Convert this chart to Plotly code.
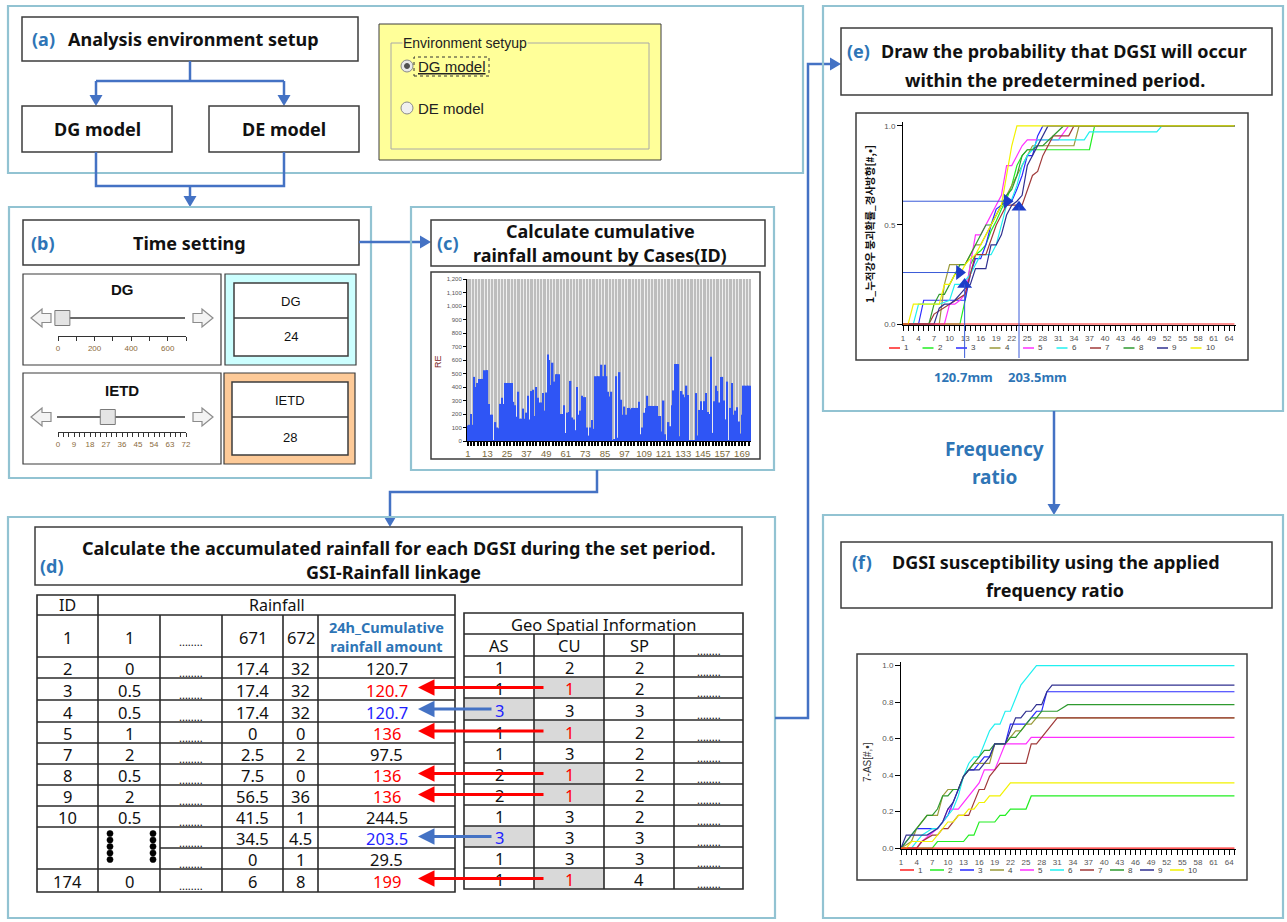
import plotly.graph_objects as go

W, H = 1287, 922
FONT = "Noto Sans"
UI = "Liberation Sans"
KR = "Noto Sans CJK KR"
LBL = "#2e75b6"
CONN = "#4472c4"
FRAME = "#92c3d2"
BOX = "#3c3c3c"

# ------------------------------------------------------------------ data
bar_re = [115, 120, 200, 120, 475, 400, 430, 460, 460, 460,
          525, 525, 525, 275, 195, 195, 5, 140, 100, 95,
          275, 320, 275, 430, 430, 430, 430, 430, 290, 265,
          180, 365, 165, 165, 240, 165, 210, 335, 160, 370,
          380, 185, 400, 320, 285, 285, 355, 225, 360, 640,
          600, 415, 580, 440, 495, 495, 495, 200, 200, 265,
          60, 210, 215, 445, 175, 160, 80, 400, 195, 225,
          335, 325, 325, 100, 40, 100, 155, 90, 480, 480,
          480, 480, 565, 480, 565, 480, 365, 330, 365, 5,
          15, 480, 25, 510, 305, 195, 255, 195, 245, 245,
          235, 245, 245, 245, 245, 290, 50, 100, 210, 245,
          335, 260, 260, 260, 260, 260, 260, 185, 185, 70,
          300, 50, 5, 140, 110, 265, 375, 570, 570, 570,
          35, 370, 345, 325, 410, 340, 5, 5, 5, 5,
          355, 40, 230, 295, 230, 295, 355, 215, 200, 625,
          60, 295, 410, 370, 285, 475, 475, 300, 160, 440,
          5, 245, 430, 195, 225, 250, 145, 55, 195, 410,
          410, 410, 410, 410]
bar_ids = list(range(1, len(bar_re) + 1))

series_names = ["1", "2", "3", "4", "5", "6", "7", "8", "9", "10"]
series_colors = ["#ff2020", "#22ee22", "#2a2aff", "#9a9a3a", "#ff30ff",
                 "#20f0f0", "#a03a3a", "#2f9a2f", "#303090", "#f2f200"]

# (e) probability curves
e_x = [
    [1, 65],
    [1, 12, 13, 14, 15, 16, 17, 18, 19, 20, 21, 22, 23, 24, 25, 37, 38, 65],
    [1, 4, 5, 13, 14, 15, 16, 17, 18, 19, 20, 21, 22, 23, 24, 25, 26, 27, 28, 65],
    [1, 8, 9, 10, 13, 14, 15, 16, 17, 18, 19, 20, 21, 22, 23, 24, 25, 26, 34, 35, 65],
    [1, 9, 10, 11, 12, 13, 14, 15, 16, 17, 18, 19, 20, 21, 22, 23, 24, 25, 31, 33, 65],
    [1, 3, 4, 8, 10, 11, 12, 13, 14, 15, 16, 17, 18, 19, 20, 21, 22, 23, 24, 25, 26, 27, 36, 37, 50, 51, 65],
    [1, 6, 7, 10, 13, 14, 15, 17, 18, 19, 20, 21, 24, 25, 26, 27, 28, 29, 30, 33, 34, 65],
    [1, 6, 7, 8, 9, 10, 11, 12, 13, 14, 15, 16, 17, 18, 19, 20, 21, 22, 23, 24, 25, 26, 27, 28, 30, 31, 32, 65],
    [1, 7, 8, 9, 10, 11, 12, 13, 14, 15, 17, 18, 19, 20, 21, 22, 23, 24, 25, 26, 27, 28, 29, 65],
    [1, 2, 3, 8, 9, 10, 11, 12, 13, 14, 15, 16, 17, 18, 19, 20, 21, 22, 23, 65],
]
e_y = [
    [0, 0],
    [0, 0, 0.12, 0.3, 0.35, 0.37, 0.4, 0.47, 0.52, 0.58, 0.63, 0.7, 0.8, 0.85, 0.88, 0.88, 1, 1],
    [0, 0, 0.12, 0.12, 0.25, 0.33, 0.33, 0.4, 0.5, 0.58, 0.6, 0.62, 0.62, 0.68, 0.75, 0.85, 0.85, 0.95, 1, 1],
    [0, 0, 0.2, 0.3, 0.3, 0.35, 0.4, 0.4, 0.45, 0.5, 0.55, 0.6, 0.65, 0.7, 0.75, 0.8, 0.85, 0.9, 0.9, 1, 1],
    [0, 0, 0.1, 0.1, 0.12, 0.15, 0.3, 0.45, 0.45, 0.5, 0.55, 0.6, 0.65, 0.8, 0.8, 0.85, 0.9, 0.93, 0.93, 1, 1],
    [0, 0, 0.1, 0.1, 0.12, 0.2, 0.2, 0.22, 0.25, 0.3, 0.35, 0.35, 0.35, 0.4, 0.5, 0.6, 0.63, 0.7, 0.8, 0.85, 0.88, 0.93, 0.93, 0.97, 0.97, 1, 1],
    [0, 0, 0.05, 0.1, 0.15, 0.25, 0.35, 0.35, 0.42, 0.5, 0.55, 0.6, 0.6, 0.68, 0.75, 0.77, 0.85, 0.9, 0.95, 0.95, 1, 1],
    [0, 0, 0.1, 0.15, 0.15, 0.2, 0.25, 0.3, 0.3, 0.35, 0.4, 0.45, 0.5, 0.5, 0.55, 0.6, 0.65, 0.68, 0.75, 0.85, 0.88, 0.88, 0.9, 0.9, 0.95, 0.97, 1, 1],
    [0, 0, 0.08, 0.1, 0.1, 0.12, 0.15, 0.18, 0.2, 0.28, 0.28, 0.4, 0.4, 0.45, 0.55, 0.6, 0.62, 0.65, 0.8, 0.85, 0.9, 0.95, 1, 1],
    [0, 0, 0.1, 0.1, 0.2, 0.2, 0.25, 0.25, 0.3, 0.33, 0.35, 0.4, 0.45, 0.5, 0.55, 0.6, 0.75, 0.9, 1, 1],
]

# (f) susceptibility curves
f_x = [
    [1, 65],
    [1, 7, 8, 13, 14, 15, 16, 19, 20, 21, 22, 25, 26, 65],
    [1, 2, 4, 8, 9, 10, 11, 12, 13, 14, 15, 16, 17, 18, 19, 21, 22, 25, 26, 27, 28, 29, 65],
    [1, 3, 4, 6, 8, 9, 10, 12, 13, 14, 15, 18, 19, 21, 22, 23, 24, 25, 26, 27, 65],
    [1, 4, 5, 8, 9, 10, 12, 13, 14, 15, 16, 17, 19, 20, 21, 25, 26, 65],
    [1, 3, 4, 5, 7, 8, 9, 10, 11, 12, 13, 14, 15, 16, 17, 18, 19, 20, 21, 22, 23, 24, 25, 26, 27, 65],
    [1, 4, 5, 7, 8, 9, 10, 11, 12, 14, 15, 16, 17, 18, 19, 20, 25, 26, 27, 28, 29, 30, 31, 65],
    [1, 2, 4, 6, 7, 8, 9, 10, 11, 12, 13, 14, 15, 16, 17, 18, 19, 21, 22, 23, 24, 25, 26, 27, 28, 31, 33, 65],
    [1, 2, 6, 8, 9, 10, 11, 12, 13, 14, 16, 17, 18, 19, 21, 22, 23, 24, 25, 26, 27, 28, 29, 30, 65],
    [1, 2, 3, 7, 8, 9, 10, 11, 12, 13, 14, 15, 16, 17, 18, 20, 21, 22, 65],
]
f_y = [
    [0, 0],
    [0, 0, 0.036, 0.036, 0.071, 0.071, 0.143, 0.143, 0.179, 0.179, 0.214, 0.214, 0.286, 0.286],
    [0, 0.036, 0.107, 0.107, 0.143, 0.179, 0.25, 0.321, 0.393, 0.429, 0.429, 0.464, 0.5, 0.5, 0.571, 0.571, 0.679, 0.679, 0.714, 0.75, 0.75, 0.857, 0.857],
    [0, 0.036, 0.107, 0.179, 0.179, 0.286, 0.321, 0.321, 0.393, 0.429, 0.464, 0.464, 0.571, 0.571, 0.607, 0.643, 0.643, 0.679, 0.679, 0.714, 0.714],
    [0, 0, 0.036, 0.107, 0.143, 0.214, 0.214, 0.25, 0.286, 0.321, 0.357, 0.429, 0.429, 0.5, 0.571, 0.571, 0.607, 0.607],
    [0, 0, 0.036, 0.071, 0.107, 0.107, 0.143, 0.179, 0.214, 0.286, 0.393, 0.464, 0.5, 0.5, 0.571, 0.643, 0.679, 0.679, 0.75, 0.75, 0.821, 0.893, 0.929, 0.964, 1.0, 1.0],
    [0, 0, 0.036, 0.071, 0.071, 0.107, 0.107, 0.143, 0.179, 0.179, 0.25, 0.321, 0.321, 0.393, 0.429, 0.464, 0.464, 0.571, 0.571, 0.607, 0.643, 0.679, 0.714, 0.714],
    [0, 0.036, 0.107, 0.179, 0.179, 0.214, 0.286, 0.286, 0.321, 0.321, 0.393, 0.429, 0.464, 0.5, 0.536, 0.536, 0.571, 0.571, 0.607, 0.607, 0.643, 0.679, 0.714, 0.714, 0.75, 0.75, 0.786, 0.786],
    [0, 0.071, 0.071, 0.107, 0.143, 0.214, 0.25, 0.321, 0.393, 0.429, 0.429, 0.464, 0.5, 0.571, 0.571, 0.643, 0.714, 0.714, 0.75, 0.75, 0.786, 0.786, 0.857, 0.893, 0.893],
    [0, 0, 0.036, 0.036, 0.071, 0.107, 0.143, 0.143, 0.179, 0.179, 0.214, 0.214, 0.25, 0.25, 0.286, 0.286, 0.321, 0.357, 0.357],
]

# guide markers on (e)
e_hguide_x = [11.9, 21.1]
e_hguide_y = [0.26, 0.62]
e_vguide_x = [12.9, 23.4]
e_vguide_y = [0.20, 0.59]
e_guide_labels = ["120.7mm", "203.5mm"]

# sliders in (b)
dg_value, ietd_value = 24, 28
dg_range, ietd_range = [0, 700], [0, 72]

# left table (d)
lt_header = ["1", "1", "........", "671", "672", "24h_Cumulative<br>rainfall amount"]
lt_id = ["2", "3", "4", "5", "7", "8", "9", "10", "", "", "174"]
lt_first = ["0", "0.5", "0.5", "1", "2", "0.5", "2", "0.5", "", "", "0"]
lt_671 = ["17.4", "17.4", "17.4", "0", "2.5", "7.5", "56.5", "41.5", "34.5", "0", "6"]
lt_672 = ["32", "32", "32", "0", "2", "0", "36", "1", "4.5", "1", "8"]
lt_cum = ["120.7", "120.7", "120.7", "136", "97.5", "136", "136", "244.5", "203.5", "29.5", "199"]
lt_cum_color = ["#111111", "#ff0000", "#1f1fff", "#ff0000", "#111111", "#ff0000",
                "#ff0000", "#111111", "#1f1fff", "#111111", "#ff0000"]

# right table (d)
rt_cols = ["AS", "CU", "SP", "........"]
rt_as = ["1", "1", "3", "1", "1", "2", "2", "1", "3", "1", "1"]
rt_cu = ["2", "1", "3", "1", "3", "1", "1", "3", "3", "3", "1"]
rt_sp = ["2", "2", "3", "2", "2", "2", "2", "2", "3", "3", "4"]
red_rows = [1, 3, 5, 6, 10]
blue_rows = [2, 8]

# ------------------------------------------------------------------ helpers
def px(x):
    return x / W


def py(y):
    return 1 - y / H


shapes, annots = [], []


def rect(x0, y0, x1, y1, color=BOX, width=1.5, fill="rgba(0,0,0,0)", dash="solid", layer="above"):
    shapes.append(dict(type="rect", xref="paper", yref="paper",
                       x0=px(x0), x1=px(x1), y0=py(y1), y1=py(y0),
                       line=dict(color=color, width=width, dash=dash),
                       fillcolor=fill, layer=layer))


def poly(pts, color=CONN, width=2.5, fill=None, close=False, layer="above"):
    d = "M" + " L".join(f"{px(x):.6f},{py(y):.6f}" for x, y in pts) + (" Z" if close else "")
    shapes.append(dict(type="path", xref="paper", yref="paper", path=d,
                       line=dict(color=color, width=width),
                       fillcolor=fill if fill else "rgba(0,0,0,0)", layer=layer))


def circle(cx, cy, r, color, fill, width=1):
    shapes.append(dict(type="circle", xref="paper", yref="paper",
                       x0=px(cx - r), x1=px(cx + r), y0=py(cy + r), y1=py(cy - r),
                       line=dict(color=color, width=width), fillcolor=fill))


def head(x, y, d, L=11, hw=6.5, color=CONN):
    if d == "down":
        pts = [(x, y), (x - hw, y - L), (x + hw, y - L)]
    elif d == "up":
        pts = [(x, y), (x - hw, y + L), (x + hw, y + L)]
    elif d == "right":
        pts = [(x, y), (x - L, y - hw), (x - L, y + hw)]
    else:
        pts = [(x, y), (x + L, y - hw), (x + L, y + hw)]
    poly(pts, color=color, width=0, fill=color, close=True)


def arrow(pts, color=CONN, width=2.5, L=11, hw=6.5):
    (xa, ya), (xb, yb) = pts[-2], pts[-1]
    if xb > xa:
        d, end = "right", (xb - L + 1, yb)
    elif xb < xa:
        d, end = "left", (xb + L - 1, yb)
    elif yb > ya:
        d, end = "down", (xb, yb - L + 1)
    else:
        d, end = "up", (xb, yb + L - 1)
    poly(pts[:-1] + [end], color, width)
    head(xb, yb, d, L, hw, color)


def text(x, y, s, size=18, color="#111111", bold=False, xanchor="center",
         family=FONT, angle=0, bg=None):
    a = dict(xref="paper", yref="paper", x=px(x), y=py(y),
             text=f"<b>{s}</b>" if bold else s, showarrow=False,
             font=dict(size=size, color=color, family=family),
             xanchor=xanchor, yanchor="middle", textangle=angle, borderpad=0)
    if bg:
        a["bgcolor"] = bg
    annots.append(a)


def link_arrow(x_tail, x_tip, y, color):
    annots.append(dict(xref="paper", yref="paper", x=px(x_tip), y=py(y),
                       ax=x_tail - x_tip, ay=0, text="", showarrow=True,
                       arrowhead=2, arrowsize=1.1, arrowwidth=3,
                       arrowcolor=color, standoff=0))


def hollow_arrow(tip_x, cy, direction):
    s = 1 if direction == "right" else -1
    pts = [(tip_x, cy), (tip_x - s * 11, cy - 9), (tip_x - s * 11, cy - 4.5),
           (tip_x - s * 20, cy - 4.5), (tip_x - s * 20, cy + 4.5),
           (tip_x - s * 11, cy + 4.5), (tip_x - s * 11, cy + 9)]
    poly(pts, color="#8c8c8c", width=1.2, fill="#f3f3f3", close=True)


# ------------------------------------------------------------------ (a)
rect(8, 6, 803, 173, FRAME, 2.2)
rect(22, 17, 358, 61)
text(43, 39, "(a)", 18, LBL, True)
text(193, 39, "Analysis environment setup", 18, bold=True)
poly([(190, 61), (190, 81)])
poly([(96, 81), (284, 81)])
arrow([(96, 81), (96, 106)])
arrow([(284, 81), (284, 106)])
rect(22, 106, 172, 152)
text(97, 129, "DG model", 18, bold=True)
rect(209, 106, 359, 152)
text(284, 129, "DE model", 18, bold=True)
poly([(96, 152), (96, 186), (284, 186), (284, 152)])
arrow([(190, 186), (190, 207)])

rect(379, 24, 661, 160, BOX, 1, "#ffff99")
rect(391, 43, 649, 149, "#a8a8a8", 1)
text(402, 43, "Environment setyup", 14, "#222222", family=UI, xanchor="left", bg="#ffff99")
circle(407, 66, 6, "#8a8a8a", "#e8e8e8")
circle(407, 66, 2.5, "#505050", "#505050")
text(417, 66, "<u>DG model</u>", 15, "#222222", family=UI, xanchor="left")
rect(414, 57, 489, 76, "#333333", 1, dash="dot")
circle(407, 108, 6, "#8a8a8a", "#f0f0f0")
text(417, 108, "DE model", 15, "#222222", family=UI, xanchor="left")

# ------------------------------------------------------------------ (b)
rect(9, 207, 371, 478, FRAME, 2.2)
rect(23, 220, 359, 265)
text(43, 243, "(b)", 18, LBL, True)
text(190, 243, "Time setting", 18, bold=True)
arrow([(359, 242), (431, 242)])

rect(23, 274, 221, 365, BOX, 1.2)
text(122, 290, "DG", 15, bold=True, family=UI)
hollow_arrow(31, 318, "left")
hollow_arrow(213, 318, "right")
poly([(57, 318), (185, 318)], "#6a6a6a", 2, layer="below")
rect(225, 274, 356, 365, BOX, 1.2, "#ccffff")
rect(234, 283, 348, 356, BOX, 1.5, "white")
poly([(234, 318), (348, 318)], BOX, 1.5)
text(291, 301, "DG", 13, family=UI)
text(291, 337, str(dg_value), 13, family=UI)

rect(23, 373, 221, 464, BOX, 1.2)
text(122, 390, "IETD", 15, bold=True, family=UI)
hollow_arrow(31, 417, "left")
hollow_arrow(213, 417, "right")
poly([(57, 417), (185, 417)], "#6a6a6a", 2, layer="below")
rect(224, 373, 355, 464, BOX, 1.2, "#fdca98")
rect(232, 382, 348, 455, BOX, 1.5, "white")
poly([(232, 417), (348, 417)], BOX, 1.5)
text(290, 400, "IETD", 13, family=UI)
text(290, 437, str(ietd_value), 13, family=UI)

# ------------------------------------------------------------------ (c)
rect(411, 207, 774, 470, FRAME, 2.2)
rect(431, 220, 765, 266)
text(448, 243, "(c)", 18, LBL, True)
text(600, 231, "Calculate cumulative", 18, bold=True)
text(600, 255, "rainfall amount by Cases(ID)", 18, bold=True)
rect(431, 272, 760, 459, BOX, 1.5)
text(438, 362, "RE", 9, "#7a1c1c", family=UI, angle=-90)
shapes.append(dict(type="rect", xref="x domain", yref="y domain", x0=0, x1=1, y0=0, y1=1,
                   fillcolor="#bdbdbd", line=dict(width=0), layer="below"))
arrow([(597, 470), (597, 492), (390, 492), (390, 527)])

# ------------------------------------------------------------------ (d)
rect(8, 517, 775, 918, FRAME, 2.2)
rect(35, 527, 742, 585)
text(52, 566, "(d)", 18, LBL, True)
text(398, 548, "Calculate the accumulated rainfall for each DGSI during the set period.", 18, bold=True)
text(393, 572, "GSI-Rainfall linkage", 18, bold=True)

LX = [37, 98, 160, 222, 283, 318, 455]
LY = [657, 678, 700, 722, 743, 764, 785, 806, 827, 848, 869, 892]
rect(37, 595, 455, 892, "#2a2a2a", 1.6)
poly([(37, 615), (455, 615)], "#2a2a2a", 1.6)
poly([(37, 657), (455, 657)], "#2a2a2a", 1.6)
for yb in LY[1:-1]:
    poly([(160 if yb == 848 else 37, yb), (455, yb)], "#2a2a2a", 1.6)
poly([(98, 595), (98, 892)], "#2a2a2a", 1.6)
for xv in LX[2:6]:
    poly([(xv, 615), (xv, 892)], "#2a2a2a", 1.6)
text((37 + 98) / 2, 605, "ID", 16)
text((98 + 455) / 2, 605, "Rainfall", 16)
for c in range(6):
    xc = (LX[c] + LX[c + 1]) / 2
    if c == 5:
        text(xc, 636, lt_header[c], 14.5, LBL, True)
    elif c == 2:
        text(xc, 641, lt_header[c], 11)
    else:
        text(xc, 637, lt_header[c], 16.5)
cols = [lt_id, lt_first, None, lt_671, lt_672, lt_cum]
for r in range(len(lt_id)):
    yc = (LY[r] + LY[r + 1]) / 2 + 1
    for c in range(6):
        xc = (LX[c] + LX[c + 1]) / 2
        if c == 2:
            text(xc, yc + 4, "........", 11)
        elif c == 5:
            text(xc, yc, lt_cum[r], 16.5, lt_cum_color[r])
        else:
            text(xc, yc, cols[c][r], 16.5)
for xd in (110, 153):
    for k in range(5):
        circle(xd, 833.5 + k * 6.5, 3.1, "black", "black", 0.5)

RX = [464, 534, 604, 674, 743]
RY = [613, 634, 656, 677, 698, 720, 742, 763, 784, 805, 826, 847, 868, 889]
for r in red_rows:
    rect(RX[1], RY[r + 2], RX[2], RY[r + 3], "rgba(0,0,0,0)", 0, "#d9d9d9")
for r in blue_rows:
    rect(RX[0], RY[r + 2], RX[1], RY[r + 3], "rgba(0,0,0,0)", 0, "#d9d9d9")
rect(464, 613, 743, 889, "#2a2a2a", 1.6)
for yb in RY[1:-1]:
    poly([(464, yb), (743, yb)], "#2a2a2a", 1.6)
for xv in RX[1:4]:
    poly([(xv, 634), (xv, 889)], "#2a2a2a", 1.6)
text(603.5, 624, "Geo Spatial Information", 16.5)
for c in range(4):
    xc = (RX[c] + RX[c + 1]) / 2
    if c == 3:
        text(xc, 650, rt_cols[c], 11)
    else:
        text(xc, 645, rt_cols[c], 16.5)
rcols = [rt_as, rt_cu, rt_sp]
for r in range(len(rt_as)):
    yc = (RY[r + 2] + RY[r + 3]) / 2 + 1
    for c in range(4):
        xc = (RX[c] + RX[c + 1]) / 2
        if c == 3:
            text(xc, yc + 4, "........", 11)
            continue
        col = "#111111"
        if c == 1 and r in red_rows:
            col = "#ff0000"
        if c == 0 and r in blue_rows:
            col = "#1f1fff"
        text(xc, yc, rcols[c][r], 16.5, col)
for r in red_rows:
    link_arrow(545, 418, (RY[r + 2] + RY[r + 3]) / 2, "#ff0000")
for r in blue_rows:
    link_arrow(493, 418, (RY[r + 2] + RY[r + 3]) / 2, CONN)

arrow([(775, 718), (808, 718), (808, 64), (841, 64)])

# ------------------------------------------------------------------ (e)
rect(823, 6, 1283, 411, FRAME, 2.2)
rect(841, 28, 1272, 95)
text(858, 51, "(e)", 18, LBL, True)
text(1064, 51, "Draw the probability that DGSI will occur", 18, bold=True)
text(1055, 80, "within the predetermined period.", 18, bold=True)
rect(856, 113, 1248, 360, BOX, 1.5)
text(869, 224, "1_누적강우 붕괴확률_경사방향[#,•]", 10.5, "#111111", True, family=KR, angle=-90)
for i, name in enumerate(series_names):
    x0 = 889 + i * 33.5
    poly([(x0, 348), (x0 + 11, 348)], series_colors[i], 1.5)
    text(x0 + 14, 348, name, 8, "#444444", family=UI, xanchor="left")
for k, lab in enumerate(e_guide_labels):
    text(963 + k * 74, 377, lab, 13, LBL, True)
arrow([(1054, 411), (1054, 515)])
text(994, 449, "Frequency", 19, LBL, True)
text(994, 477, "ratio", 19, LBL, True)

# ------------------------------------------------------------------ (f)
rect(823, 515, 1283, 918, FRAME, 2.2)
rect(841, 542, 1272, 608)
text(862, 562, "(f)", 18, LBL, True)
text(1056, 562, "DGSI susceptibility using the applied", 18, bold=True)
text(1055, 590, "frequency ratio", 18, bold=True)
rect(857, 654, 1247, 880, BOX, 1.5)
text(867, 762, "7-AS[#,•]", 10, "#333333", family=UI, angle=-90)
for i, name in enumerate(series_names):
    x0 = 900 + i * 30
    poly([(x0, 870), (x0 + 14, 870)], series_colors[i], 1.5)
    text(x0 + 17, 870, name, 8, "#444444", family=UI, xanchor="left")

# ------------------------------------------------------------------ traces
fig = go.Figure()
fig.add_trace(go.Bar(x=bar_ids, y=bar_re, marker=dict(color="#2f55f5", line=dict(width=0)),
                     xaxis="x", yaxis="y"))

E_DX, E_DY, E_RX, E_RY = [px(903), px(1236)], [py(325), py(122)], [1, 65.3], [-0.005, 1.02]
F_DX, F_DY, F_RX, F_RY = [px(901), px(1236)], [py(849), py(662)], [1, 65.3], [-0.005, 1.02]

order = list(range(1, 10)) + [0]
for i in order:
    fig.add_trace(go.Scatter(x=e_x[i], y=e_y[i], mode="lines", name=series_names[i],
                             line=dict(color=series_colors[i], width=1.2),
                             xaxis="x2", yaxis="y2"))
for k in range(len(e_hguide_x)):
    fig.add_trace(go.Scatter(x=[1, e_hguide_x[k]], y=[e_hguide_y[k]] * 2, mode="lines",
                             line=dict(color="#3a5bd8", width=1), xaxis="x2", yaxis="y2"))
fig.add_trace(go.Scatter(x=e_hguide_x, y=e_hguide_y, mode="markers",
                         marker=dict(symbol="triangle-right", size=13, color="#1c3cc8"),
                         xaxis="x2", yaxis="y2", cliponaxis=False))
fig.add_trace(go.Scatter(x=e_vguide_x, y=e_vguide_y, mode="markers",
                         marker=dict(symbol="triangle-up", size=13, color="#1c3cc8"),
                         xaxis="x2", yaxis="y2", cliponaxis=False))


def y2paper(v, dom, rng):
    return dom[0] + (v - rng[0]) / (rng[1] - rng[0]) * (dom[1] - dom[0])


for k in range(len(e_vguide_x)):
    shapes.append(dict(type="line", xref="x2", yref="paper",
                       x0=e_vguide_x[k], x1=e_vguide_x[k],
                       y0=py(358), y1=y2paper(e_vguide_y[k], E_DY, E_RY),
                       line=dict(color="#3a5bd8", width=1)))

for i in order:
    fig.add_trace(go.Scatter(x=f_x[i], y=f_y[i], mode="lines", name=series_names[i],
                             line=dict(color=series_colors[i], width=1.2),
                             xaxis="x3", yaxis="y3"))

thumb = dict(symbol="square", size=15, color="#e4e4e4", line=dict(color="#7a7a7a", width=1))
fig.add_trace(go.Scatter(x=[dg_value], y=[0.5], mode="markers", marker=thumb,
                         xaxis="x4", yaxis="y4", cliponaxis=False))
fig.add_trace(go.Scatter(x=[ietd_value], y=[0.5], mode="markers", marker=thumb,
                         xaxis="x5", yaxis="y5", cliponaxis=False))

tickf = dict(size=8, color="#555555", family=UI)
chart_x = dict(range=[1, 65.3], tick0=1, dtick=3, ticks="outside", ticklen=5, tickcolor="black",
               minor=dict(dtick=1, tick0=1, ticks="outside", ticklen=5, tickcolor="black"),
               showline=True, linecolor="black", linewidth=1, showgrid=False, zeroline=False,
               tickfont=tickf, layer="below traces", fixedrange=True)
chart_y = dict(ticks="outside", ticklen=5, tickcolor="black", showline=True, linecolor="black",
               linewidth=1, showgrid=False, zeroline=False, tickfont=tickf, fixedrange=True)
slider_x = dict(ticks="outside", ticklen=4, tickcolor="#333333", showline=True, linecolor="#333333",
                linewidth=1, showgrid=False, zeroline=False, fixedrange=True,
                tickfont=dict(size=8, color="#8b6b3d", family=UI))

fig.update_layout(
    width=W, height=H, margin=dict(l=0, r=0, t=0, b=0), autosize=False,
    paper_bgcolor="white", plot_bgcolor="rgba(0,0,0,0)", template="none",
    showlegend=False, hovermode=False, bargap=0.12,
    font=dict(family=FONT, size=12, color="#111111"),
    xaxis=dict(domain=[px(467), px(751)], range=[0.5, len(bar_re) + 0.5], anchor="y",
               tick0=1, dtick=12, ticks="outside", ticklen=4, tickcolor="black", tickwidth=1.5,
               showline=True, linecolor="black",
               showgrid=True, gridcolor="#f2f2f2", gridwidth=1,
               minor=dict(dtick=2, tick0=1, showgrid=True, gridcolor="#ececec", gridwidth=0.8,
                          ticks="outside", ticklen=4, tickwidth=1.5, tickcolor="black"),
               zeroline=False, tickfont=dict(size=9.5, color="#7b6a3c", family=UI), fixedrange=True),
    yaxis=dict(domain=[py(441), py(279)], range=[0, 1200], anchor="x", dtick=100,
               tickformat=",d", ticks="outside", ticklen=3, tickcolor="black",
               showline=True, linecolor="black", showgrid=False, zeroline=False,
               tickfont=dict(size=6, color="#555555", family=UI), fixedrange=True),
    xaxis2=dict(domain=E_DX, anchor="y2", **chart_x),
    yaxis2=dict(domain=E_DY, range=E_RY, anchor="x2", tickvals=[0, 0.5, 1.0],
                ticktext=["0.0", "0.5", "1.0"], **chart_y),
    xaxis3=dict(domain=F_DX, anchor="y3", **chart_x),
    yaxis3=dict(domain=F_DY, range=F_RY, anchor="x3", tickvals=[0, 0.2, 0.4, 0.6, 0.8, 1.0],
                tickformat=".1f", **chart_y),
    xaxis4=dict(domain=[px(58), px(186)], range=dg_range, anchor="y4", tick0=0, dtick=200,
                minor=dict(dtick=100, ticks="outside", ticklen=4, tickcolor="#333333"), **slider_x),
    yaxis4=dict(domain=[py(336), py(300)], range=[0, 1], anchor="x4", visible=False, fixedrange=True),
    xaxis5=dict(domain=[px(58), px(186)], range=ietd_range, anchor="y5", tick0=0, dtick=9,
                minor=dict(dtick=3, ticks="outside", ticklen=4, tickcolor="#333333"), **slider_x),
    yaxis5=dict(domain=[py(432), py(402)], range=[0, 1], anchor="x5", visible=False, fixedrange=True),
    shapes=shapes, annotations=annots,
)

fig.write_html("out.html", config={"displayModeBar": False},
               post_script="document.body.style.margin='0';document.body.style.overflow='hidden';")
